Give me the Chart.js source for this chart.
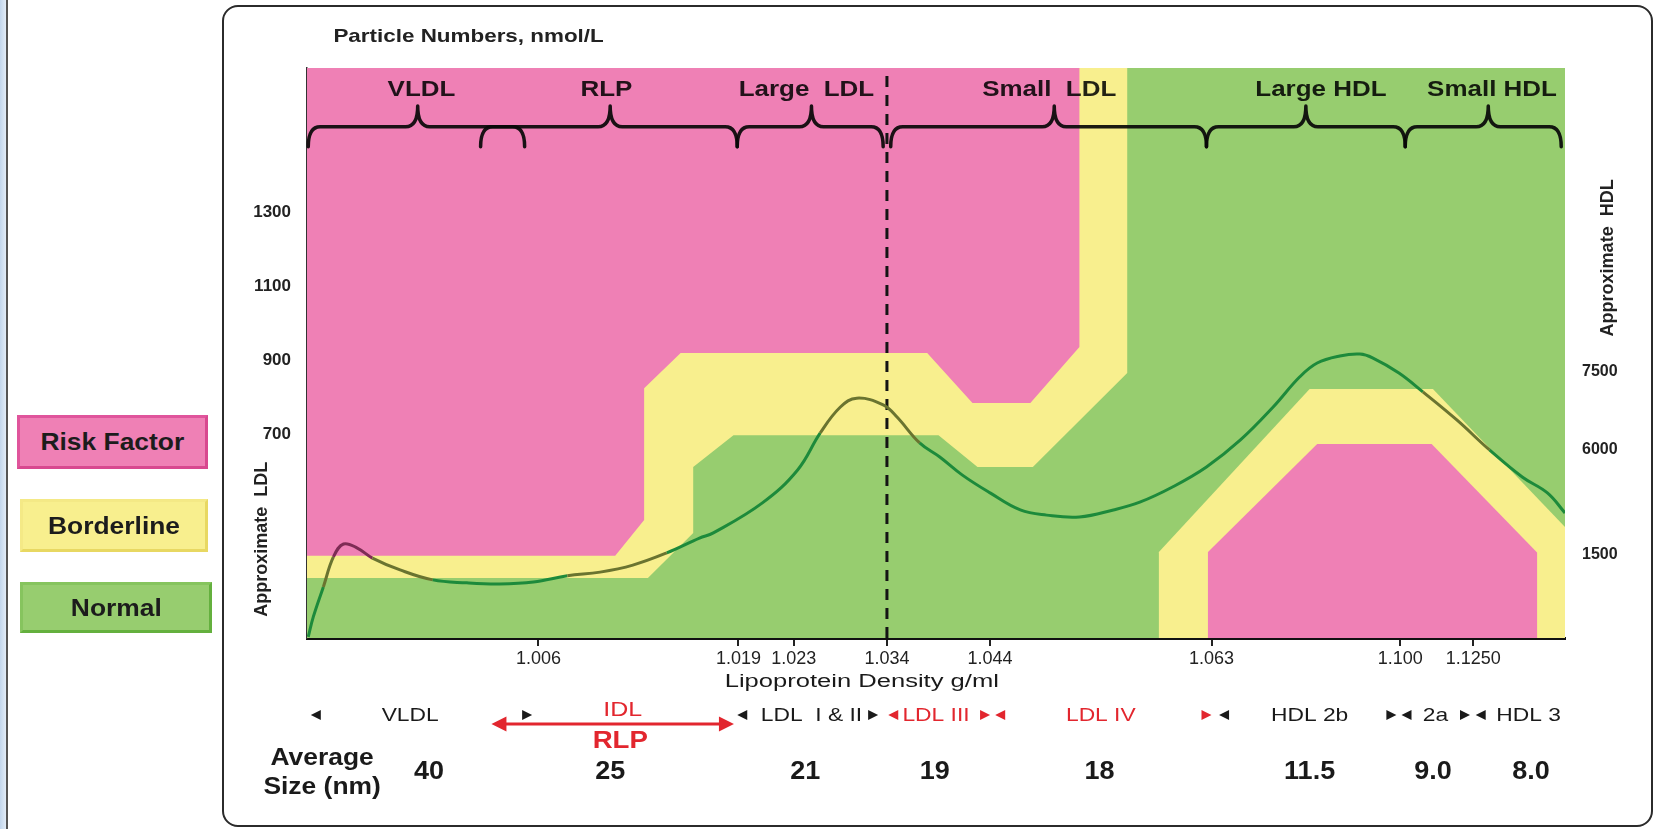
<!DOCTYPE html>
<html>
<head>
<meta charset="utf-8">
<script src="https://cdn.jsdelivr.net/npm/chart.js@4.4.0/dist/chart.umd.min.js"></script>
<style>
  body { margin: 0; background: #fff; }
  #wrap { position: relative; width: 1660px; height: 829px; overflow: hidden; font-family: "Liberation Sans", Arial, sans-serif; }
  .strip { position: absolute; left: 0; top: 0; width: 6px; height: 829px; background: linear-gradient(90deg, #c2d6ec, #e2ecf7); border-right: 2px solid #555; }
  .frame { position: absolute; left: 222px; top: 5px; width: 1431px; height: 822px; box-sizing: border-box; border: 2px solid #2b2b2b; border-radius: 16px; }
  canvas { position: absolute; left: 0; top: 0; }
  .key { position: absolute; box-sizing: border-box; display: flex; align-items: center; justify-content: center;
         font-weight: bold; font-size: 24px; color: #1c1c1c; border-style: solid; border-width: 3px; z-index: 2; }
  .key span { display: inline-block; transform: scaleX(1.1); }
</style>
</head>
<body>
<div id="wrap">
  <div class="strip"></div>
  <div class="frame"></div>
  <canvas id="lipoChart" width="1660" height="829"></canvas>
</div>
<script>
var FONT = '"Liberation Sans", Arial, sans-serif';

// x runs along the density axis (0 = left edge, 100 = right edge), y is the "Approximate LDL" scale
var densityTicks = [18.4, 34.3, 38.7, 46.1, 54.3, 71.9, 86.9, 92.7];
var densityLabels = ['1.006', '1.019', '1.023', '1.034', '1.044', '1.063', '1.100', '1.1250'];
var ldlTicks = [700, 900, 1100, 1300];
var hdlTickAt = [374, 658, 869];
var hdlLabels = ['1500', '6000', '7500'];

// upper edges of the zones
var borderlineTop = [[0,372],[24.5,372],[26.8,469],[26.8,825],[29.7,920],[49.3,920],[52.9,785],[57.5,785],[61.4,936],[61.4,1690],[100,1690]];
var normalTop = [[0,312],[27.1,312],[30.7,434],[30.7,612],[33.9,698],[50.2,698],[53.3,612],[57.7,612],[65.2,866],[65.2,1690],[100,1690]];
var hdlBorderline = [[67.7,150],[67.7,382],[79.7,823],[89.5,823],[100,450],[100,150]];
var hdlRisk = [[71.6,150],[71.6,382],[80.3,674],[89.4,674],[97.8,380],[97.8,150]];

// particle distribution curve
var curveDensity = [0.1, 0.5, 1.3, 2.1, 2.9, 4.0, 5.2, 7.4, 10.0, 12.7, 15.3, 18.0, 20.7, 23.3, 25.9, 28.6, 31.2, 32.3,
  36.2, 39.0, 40.8, 42.4, 43.7, 45.8, 46.9, 48.7, 50.3, 52.1, 54.3, 56.7, 58.8, 61.4, 64.1, 66.2, 68.8, 71.5, 74.2,
  76.8, 78.9, 80.3, 82.1, 83.7, 84.7, 86.8, 88.7, 91.4, 94.0, 96.6, 98.6, 100];
var curveLevel = [153, 207, 288, 369, 404, 393, 366, 334, 307, 299, 296, 301, 318, 328, 347, 380, 420, 434,
  515, 604, 704, 774, 798, 780, 747, 677, 639, 590, 542, 496, 482, 477, 496, 517, 558, 612, 685,
  774, 855, 893, 912, 917, 907, 866, 815, 739, 658, 585, 542, 488];

var dividerAt = 46.1;

// brackets: [start, tip, end]
var braceSpans = [[0.1, 8.8, 17.3], [13.8, 24.1, 34.2], [34.2, 40.1, 45.8], [46.4, 59.4, 71.5], [71.5, 79.4, 87.3], [87.3, 93.9, 99.7]];
var braceLabels = ['VLDL', 'RLP', 'Large  LDL', 'Small  LDL', 'Large HDL', 'Small HDL'];
var braceLabelAt = [9.1, 23.8, 39.7, 59.0, 80.6, 94.2];

var fractionNames = ['VLDL', 'LDL  I & II', 'LDL III', 'LDL IV', 'HDL 2b', '2a', 'HDL 3'];
var fractionAt = [8.2, 40.1, 50.0, 63.1, 79.7, 89.7, 97.1];
var fractionRed = [false, false, true, true, false, false, false];
var avgSizes = ['40', '25', '21', '19', '18', '11.5', '9.0', '8.0'];
var avgSizeAt = [9.7, 24.1, 39.6, 49.9, 63.0, 79.7, 89.5, 97.3];
// range markers: [position, direction (1 right, -1 left), red]
var markers = [[0.7,-1,0],[17.5,1,0],[34.6,-1,0],[45.0,1,0],[46.6,-1,1],[53.9,1,1],[55.1,-1,1],[71.5,1,1],[72.9,-1,0],[86.2,1,0],[87.4,-1,0],[92.05,1,0],[93.3,-1,0]];
var idlArrow = [14.7, 33.9];

var zoneNames = ['Risk Factor', 'Borderline', 'Normal'];
var PINK = '#ef80b5', YELLOW = '#f8ef8e', GREEN = '#97cd6f';
var RED = '#e2262e', INK = '#1a1a1a';

// legend keys on the left
var keyBoxes = [
  { left: 17, top: 415, w: 191, h: 54, bg: PINK, bd: '#e0559c #d8488f #d8488f #e0559c' },
  { left: 20, top: 499, w: 188, h: 53, bg: YELLOW, bd: '#f4e986 #e8d862 #e8d862 #f4e986' },
  { left: 20, top: 582, w: 192, h: 51, bg: GREEN, bd: '#86c45e #64b03e #64b03e #86c45e' }
];
keyBoxes.forEach(function (b, i) {
  var d = document.createElement('div');
  d.className = 'key';
  d.style.cssText = 'left:' + b.left + 'px;top:' + b.top + 'px;width:' + b.w + 'px;height:' + b.h + 'px;background:' + b.bg + ';border-color:' + b.bd;
  var s = document.createElement('span');
  s.textContent = zoneNames[i];
  d.appendChild(s);
  document.getElementById('wrap').appendChild(d);
});

function topAt(poly, u) {
  for (var i = 0; i < poly.length - 1; i++) {
    var a = poly[i], b = poly[i + 1];
    if (b[0] > a[0] && u >= a[0] && u <= b[0]) return a[1] + (b[1] - a[1]) * (u - a[0]) / (b[0] - a[0]);
  }
  return -Infinity;
}
function curveColor(u, v) {
  if (v < topAt(hdlRisk, u)) return '#7e2c55';
  if (v < topAt(hdlBorderline, u)) return '#6a7430';
  if (v < topAt(normalTop, u)) return '#1d8a3b';
  if (v < topAt(borderlineTop, u)) return '#6a7430';
  return '#7e2c55';
}

function pts(poly) { return poly.map(function (p) { return { x: p[0], y: p[1] }; }); }
function zone(poly, color, order) {
  return { data: pts(poly), backgroundColor: color, borderColor: 'rgba(0,0,0,0)', borderWidth: 1,
           fill: 'start', pointRadius: 0, tension: 0, order: order };
}

function text(ctx, t, x, y, font, color, align, sx) {
  ctx.save();
  ctx.font = font;
  ctx.fillStyle = color;
  ctx.textAlign = align || 'center';
  ctx.textBaseline = 'middle';
  ctx.translate(x, y);
  ctx.scale(sx || 1, 1);
  ctx.fillText(t, 0, 0);
  ctx.restore();
}
function brace(ctx, x0, xm, x1, yb, yt, yh) {
  var r = 12;
  ctx.beginPath();
  ctx.moveTo(x0, yh);
  ctx.quadraticCurveTo(x0, yb, x0 + r, yb);
  ctx.lineTo(xm - r, yb);
  ctx.quadraticCurveTo(xm, yb, xm, yt);
  ctx.quadraticCurveTo(xm, yb, xm + r, yb);
  ctx.lineTo(x1 - r, yb);
  ctx.quadraticCurveTo(x1, yb, x1, yh);
  ctx.stroke();
}
function tri(ctx, x, y, dir, half, color) {
  ctx.beginPath();
  ctx.moveTo(x + dir * half, y);
  ctx.lineTo(x - dir * half, y - half);
  ctx.lineTo(x - dir * half, y + half);
  ctx.closePath();
  ctx.fillStyle = color;
  ctx.fill();
}

var braceLevel = { base: 1531, tip: 1587, hook: 1477, label: 1631 };

var annotations = {
  id: 'annotations',
  afterDatasetsDraw: function (chart) {
    var ctx = chart.ctx, x = chart.scales.x, y = chart.scales.y;
    ctx.save();
    ctx.strokeStyle = 'rgba(8,8,8,0.92)';
    ctx.lineWidth = 3.5;
    ctx.lineCap = 'round';
    ctx.lineJoin = 'round';
    braceSpans.forEach(function (s) {
      brace(ctx, x.getPixelForValue(s[0]), x.getPixelForValue(s[1]), x.getPixelForValue(s[2]),
        y.getPixelForValue(braceLevel.base), y.getPixelForValue(braceLevel.tip), y.getPixelForValue(braceLevel.hook));
    });
    ctx.restore();
    braceLabels.forEach(function (t, i) {
      text(ctx, t, x.getPixelForValue(braceLabelAt[i]), y.getPixelForValue(braceLevel.label), 'bold 22px ' + FONT, 'rgba(0,0,0,0.86)', 'center', 1.18);
    });
  },
  afterDraw: function (chart) {
    var ctx = chart.ctx, x = chart.scales.x, y = chart.scales.y, a = chart.chartArea;
    var b = a.bottom;
    text(ctx, 'Particle Numbers, nmol/L', x.getPixelForValue(2.1), a.top - 31, 'bold 19px ' + FONT, '#222', 'left', 1.18);

    ctx.save();
    ctx.translate(a.left - 45, y.getPixelForValue(417));
    ctx.rotate(-Math.PI / 2);
    text(ctx, 'Approximate  LDL', 0, 0, 'bold 18px ' + FONT, '#222');
    ctx.restore();
    ctx.save();
    ctx.translate(a.right + 43, y.getPixelForValue(1177));
    ctx.rotate(-Math.PI / 2);
    text(ctx, 'Approximate  HDL', 0, 0, 'bold 18px ' + FONT, '#222');
    ctx.restore();

    text(ctx, 'Lipoprotein Density g/ml', x.getPixelForValue(44.1), b + 44, '18px ' + FONT, INK, 'center', 1.42);

    fractionNames.forEach(function (t, i) {
      text(ctx, t, x.getPixelForValue(fractionAt[i]), b + 78, '19px ' + FONT, fractionRed[i] ? RED : INK, 'center', 1.2);
    });
    markers.forEach(function (m) {
      tri(ctx, x.getPixelForValue(m[0]), b + 77, m[1], 5, m[2] ? RED : INK);
    });

    // IDL / RLP double arrow
    var x1 = x.getPixelForValue(idlArrow[0]), x2 = x.getPixelForValue(idlArrow[1]), ya = b + 86;
    ctx.save();
    ctx.strokeStyle = RED;
    ctx.lineWidth = 3;
    ctx.beginPath();
    ctx.moveTo(x1 + 10, ya);
    ctx.lineTo(x2 - 10, ya);
    ctx.stroke();
    ctx.restore();
    tri(ctx, x1 + 7, ya, -1, 7.5, RED);
    tri(ctx, x2 - 7, ya, 1, 7.5, RED);
    text(ctx, 'IDL', x.getPixelForValue(25.1), b + 72, '20px ' + FONT, RED, 'center', 1.25);
    text(ctx, 'RLP', x.getPixelForValue(24.9), b + 104, 'bold 23px ' + FONT, RED, 'center', 1.2);

    text(ctx, 'Average', x.getPixelForValue(1.2), b + 120, 'bold 24px ' + FONT, INK, 'center', 1.1);
    text(ctx, 'Size (nm)', x.getPixelForValue(1.2), b + 149, 'bold 24px ' + FONT, INK, 'center', 1.1);
    avgSizes.forEach(function (t, i) {
      text(ctx, t, x.getPixelForValue(avgSizeAt[i]), b + 134, 'bold 25px ' + FONT, INK, 'center', 1.08);
    });
  }
};

Chart.defaults.font.family = FONT;

var chart = new Chart(document.getElementById('lipoChart'), {
  type: 'line',
  data: {
    datasets: [
      {
        data: curveDensity.map(function (u, i) { return { x: u, y: curveLevel[i] }; }),
        borderColor: '#1d8a3b', borderWidth: 3, pointRadius: 0, tension: 0.4, fill: false, order: 0,
        segment: {
          borderColor: function (c) {
            return curveColor((c.p0.parsed.x + c.p1.parsed.x) / 2, (c.p0.parsed.y + c.p1.parsed.y) / 2);
          }
        }
      },
      {
        data: [{ x: dividerAt, y: 150 }, { x: dividerAt, y: 1690 }],
        borderColor: '#141414', borderWidth: 3, borderDash: [11, 8], pointRadius: 0, fill: false, order: 1
      },
      zone(hdlRisk, PINK, 2),
      zone(hdlBorderline, YELLOW, 3),
      zone(normalTop, GREEN, 4),
      zone(borderlineTop, YELLOW, 5),
      zone([[0, 1690], [100, 1690]], PINK, 6)
    ]
  },
  options: {
    responsive: false,
    animation: false,
    events: [],
    layout: { padding: { left: 227, right: 15, top: 68, bottom: 151 } },
    plugins: { legend: { display: false }, tooltip: { enabled: false } },
    scales: {
      x: {
        type: 'linear', min: 0, max: 100,
        afterBuildTicks: function (s) { s.ticks = densityTicks.map(function (v) { return { value: v }; }); },
        afterFit: function (s) { s.height = 40; },
        ticks: { autoSkip: false, maxRotation: 0, padding: 2, color: '#222', font: { size: 18 },
                 callback: function (v, i) { return densityLabels[i]; } },
        grid: { display: true, drawOnChartArea: false, drawTicks: true, tickLength: 8, color: '#222', lineWidth: 2 },
        border: { display: true, color: '#111', width: 3 }
      },
      y: {
        min: 150, max: 1690,
        afterBuildTicks: function (s) { s.ticks = ldlTicks.map(function (v) { return { value: v }; }); },
        afterFit: function (s) { s.width = 80; },
        ticks: { padding: 16, color: '#222', font: { size: 17, weight: 'bold' },
                 callback: function (v) { return String(v); } },
        grid: { display: false, drawTicks: false },
        border: { display: true, color: '#333', width: 1.5 }
      },
      y2: {
        position: 'right', min: 150, max: 1690,
        afterBuildTicks: function (s) { s.ticks = hdlTickAt.map(function (v) { return { value: v }; }); },
        afterFit: function (s) { s.width = 80; },
        ticks: { padding: 17, color: '#222', font: { size: 16, weight: 'bold' },
                 callback: function (v, i) { return hdlLabels[i]; } },
        grid: { display: false, drawTicks: false },
        border: { display: false }
      }
    }
  },
  plugins: [annotations]
});
</script>
</body>
</html>
